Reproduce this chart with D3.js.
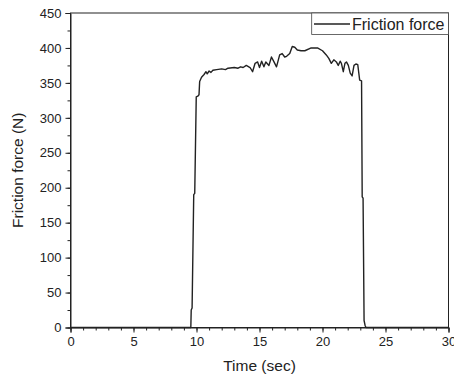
<!DOCTYPE html>
<html><head><meta charset="utf-8">
<script src="https://cdn.jsdelivr.net/npm/d3@7"></script>
<style>body{margin:0;background:#fff}svg{display:block}text{font-family:"Liberation Sans",Arial,sans-serif;fill:#222}</style>
</head><body><svg id="c" width="454" height="380"></svg>
<script>
const time = [0,9.55,9.58,9.65,9.78,9.86,9.98,10.1,10.2,10.25,10.4,10.6,10.75,10.85,11.0,11.15,11.3,11.6,12.0,12.3,12.5,13.0,13.3,13.5,13.7,13.95,14.25,14.45,14.65,14.85,15.0,15.17,15.35,15.5,15.75,15.95,16.15,16.35,16.6,16.8,17.0,17.15,17.4,17.6,17.8,18.0,18.3,18.6,19.1,19.6,20.0,20.3,20.5,20.7,20.9,21.1,21.25,21.4,21.5,21.65,21.78,21.9,22.05,22.2,22.35,22.5,22.65,22.8,22.95,23.1,23.15,23.22,23.3,23.38,23.45,30];
const force = [0,0,25,28,190,192,330,331,333,352,358,362,366,363,367,365,368,369,370,369,371,372,371,373,372,375,372,366,378,380,372,381,373,380,375,387,380,373,390,392,387,388,392,402,401,397,396,396,400,400,396,390,385,378,383,380,375,381,378,366,378,380,375,364,360,375,377,376,354,353,187,185,10,3,0,0];
const xTicks = [0,5,10,15,20,25,30];
const yTicks = [0,50,100,150,200,250,300,350,400,450];
const seriesName = "Friction force";

const svg = d3.select("#c");
const L=70.5, R=448.5, T=13, B=327.5;
const x = d3.scaleLinear().domain([0,30]).range([L,R]);
const y = d3.scaleLinear().domain([0,450]).range([B,T]);
const ink = "#222";

svg.append("rect").attr("x",L).attr("y",T).attr("width",R-L).attr("height",B-T)
  .attr("fill","none").attr("stroke",ink).attr("stroke-width",1);

const xa = svg.append("g").attr("transform",`translate(0,${B})`);
xa.call(d3.axisBottom(x).tickValues(d3.range(0,31,1)).tickSize(3).tickFormat(""))
  .call(g=>g.select(".domain").remove());
xa.append("g").call(d3.axisBottom(x).tickValues(xTicks).tickSize(5).tickPadding(4).tickFormat(d3.format("d")))
  .call(g=>g.select(".domain").attr("stroke",ink));
xa.selectAll("line").attr("stroke",ink);
xa.selectAll("text").attr("font-size",13).attr("fill",ink).style("font-family","Liberation Sans, Arial, sans-serif");

const ya = svg.append("g").attr("transform",`translate(${L},0)`);
ya.call(d3.axisLeft(y).tickValues(d3.range(0,451,25)).tickSize(3).tickFormat(""))
  .call(g=>g.select(".domain").remove());
ya.append("g").call(d3.axisLeft(y).tickValues(yTicks).tickSize(5).tickPadding(4).tickFormat(d3.format("d")))
  .call(g=>g.select(".domain").attr("stroke",ink));
ya.selectAll("line").attr("stroke",ink);
ya.selectAll("text").attr("font-size",13).attr("fill",ink).style("font-family","Liberation Sans, Arial, sans-serif");

svg.append("text").attr("x",(L+R)/2).attr("y",371).attr("text-anchor","middle").attr("font-size",15.5).text("Time (sec)");
svg.append("text").attr("transform",`translate(23,${(T+B)/2}) rotate(-90)`).attr("text-anchor","middle").attr("font-size",15.5).text("Friction force (N)");

const data = time.map((t,i)=>({t,v:force[i]}));
svg.append("path").datum(data)
  .attr("d",d3.line().x(d=>x(d.t)).y(d=>y(d.v)))
  .attr("fill","none").attr("stroke",ink).attr("stroke-width",1.4).attr("stroke-linejoin","round");

const lx=311.7, ly=T;
svg.append("rect").attr("x",lx).attr("y",ly).attr("width",R-lx).attr("height",21.5)
  .attr("fill","#fff").attr("stroke","#444").attr("stroke-width",0.8);
svg.append("line").attr("x1",314).attr("x2",350).attr("y1",ly+11).attr("y2",ly+11).attr("stroke",ink).attr("stroke-width",1.3);
svg.append("text").attr("x",352).attr("y",ly+16.5).attr("font-size",16).text(seriesName);
</script></body></html>
